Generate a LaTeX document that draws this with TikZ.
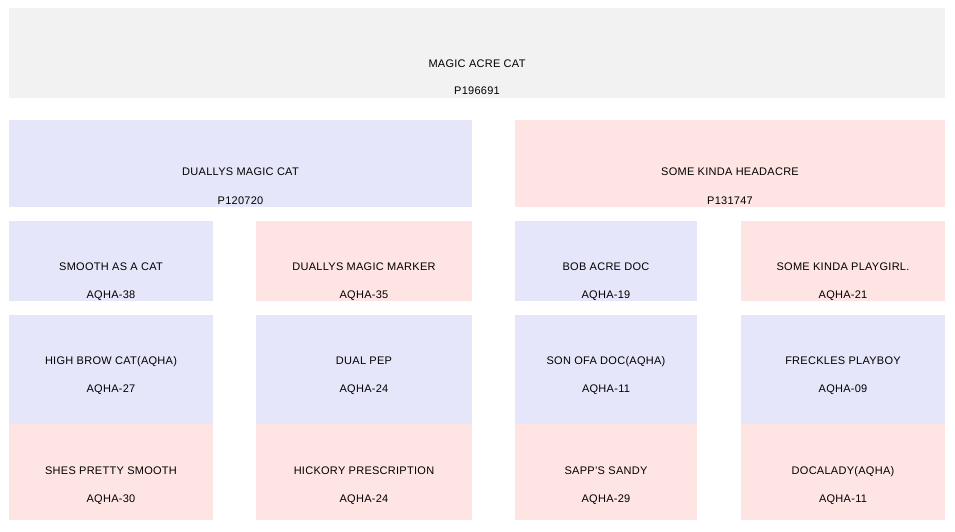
\documentclass[tikz,border=0pt]{standalone}
\usepackage{fontspec}
\setmainfont{Liberation Sans}[LetterSpace=2.5]
\definecolor{foalgray}{HTML}{F2F2F2}
\definecolor{sireblue}{HTML}{E6E6FA}
\definecolor{dampink}{HTML}{FFE4E4}
\tikzset{
  horse/.style={rectangle,inner sep=0pt,outer sep=0pt,anchor=north west},
  foal/.style={horse,fill=foalgray},
  colt/.style={horse,fill=sireblue},
  filly/.style={horse,fill=dampink},
  tag/.style={inner sep=0pt,anchor=base,font=\fontsize{11}{13}\selectfont,text=black},
}
\begin{document}
\begin{tikzpicture}[x=1pt,y=-1pt]

      \useasboundingbox (0,0) rectangle (955,531);

      % boxes
      \path (9,8) node [foal,minimum width=936pt,minimum height=90pt](horse_top){};
      \path (9,120) node [colt,minimum width=463pt,minimum height=87pt](horse_s){};
      \path (515,120) node [filly,minimum width=430pt,minimum height=87pt](horse_d){};
      \path (9,221) node [colt,minimum width=204pt,minimum height=80pt](horse_ss){};
      \path (256,221) node [filly,minimum width=216pt,minimum height=80pt](horse_sd){};
      \path (515,221) node [colt,minimum width=182pt,minimum height=80pt](horse_ds){};
      \path (741,221) node [filly,minimum width=204pt,minimum height=80pt](horse_dd){};
      \path (9,315) node [colt,minimum width=204pt,minimum height=109pt](horse_sss){};
      \path (256,315) node [colt,minimum width=216pt,minimum height=109pt](horse_sds){};
      \path (515,315) node [colt,minimum width=182pt,minimum height=109pt](horse_dss){};
      \path (741,315) node [colt,minimum width=204pt,minimum height=109pt](horse_dds){};
      \path (9,424) node [filly,minimum width=204pt,minimum height=96pt](horse_ssd){};
      \path (256,424) node [filly,minimum width=216pt,minimum height=96pt](horse_sdd){};
      \path (515,424) node [filly,minimum width=182pt,minimum height=96pt](horse_dsd){};
      \path (741,424) node [filly,minimum width=204pt,minimum height=96pt](horse_ddd){};

      % names and registration numbers
      \path (477,67.3) node [tag](name_top){MAGIC ACRE CAT};
      \path (477,94.7) node [tag](reg_top){P196691};
      \path (240.5,175.5) node [tag](name_s){DUALLYS MAGIC CAT};
      \path (240.5,204) node [tag](reg_s){P120720};
      \path (730,175.5) node [tag](name_d){SOME KINDA HEADACRE};
      \path (730,204) node [tag](reg_d){P131747};

      \path (111,270) node [tag](name_ss){SMOOTH AS A CAT};
      \path (111,298) node [tag](reg_ss){AQHA-38};
      \path (364,270) node [tag](name_sd){DUALLYS MAGIC MARKER};
      \path (364,298) node [tag](reg_sd){AQHA-35};
      \path (606,270) node [tag](name_ds){BOB ACRE DOC};
      \path (606,298) node [tag](reg_ds){AQHA-19};
      \path (843,270) node [tag](name_dd){SOME KINDA PLAYGIRL.};
      \path (843,298) node [tag](reg_dd){AQHA-21};

      \path (111,364) node [tag](name_sss){HIGH BROW CAT(AQHA)};
      \path (111,392.5) node [tag](reg_sss){AQHA-27};
      \path (364,364) node [tag](name_sds){DUAL PEP};
      \path (364,392.5) node [tag](reg_sds){AQHA-24};
      \path (606,364) node [tag](name_dss){SON OFA DOC(AQHA)};
      \path (606,392.5) node [tag](reg_dss){AQHA-11};
      \path (843,364) node [tag](name_dds){FRECKLES PLAYBOY};
      \path (843,392.5) node [tag](reg_dds){AQHA-09};

      \path (111,474) node [tag](name_ssd){SHES PRETTY SMOOTH};
      \path (111,502) node [tag](reg_ssd){AQHA-30};
      \path (364,474) node [tag](name_sdd){HICKORY PRESCRIPTION};
      \path (364,502) node [tag](reg_sdd){AQHA-24};
      \path (606,474) node [tag](name_dsd){SAPP'S SANDY};
      \path (606,502) node [tag](reg_dsd){AQHA-29};
      \path (843,474) node [tag](name_ddd){DOCALADY(AQHA)};
      \path (843,502) node [tag](reg_ddd){AQHA-11};

    \end{tikzpicture}
\end{document}
